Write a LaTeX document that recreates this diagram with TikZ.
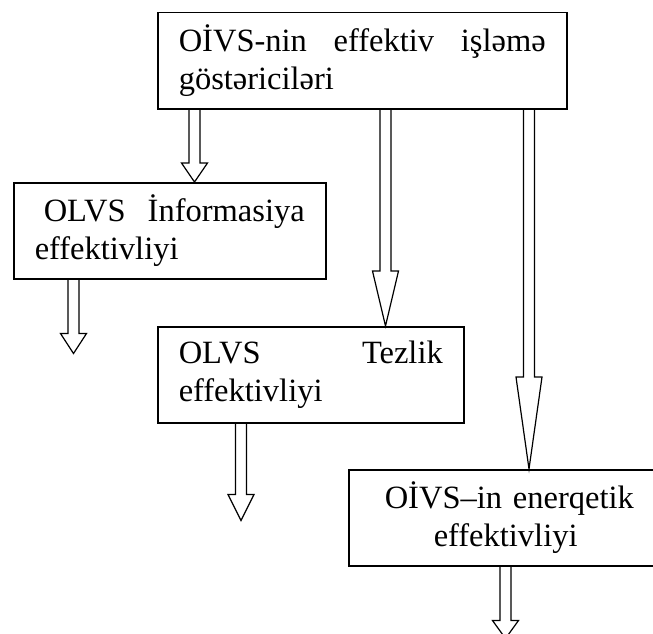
\documentclass[tikz,border=0pt]{standalone}
\usepackage{fontspec}
\setmainfont{Liberation Serif}
\usetikzlibrary{calc}
\definecolor{ink}{HTML}{000000}
\tikzset{
  blockbox/.style={draw=ink,line width=1.5pt,anchor=north west,inner xsep=21pt,
    inner ysep=0pt,minimum height=96pt,align=left,
    font=\fontsize{32.5}{37.5}\selectfont},
  hollow/.style={draw=ink,line width=1.2pt,line join=miter}
}
\newcommand{\hollowarrow}[3]{%
  \draw[hollow] let \p1=(#1), \p2=(#2) in
    (\x1-5.5pt,\y1) -- (\x1-5.5pt,\y2+#3) -- (\x1-13pt,\y2+#3) -- (\x1,\y2)
    -- (\x1+13pt,\y2+#3) -- (\x1+5.5pt,\y2+#3) -- (\x1+5.5pt,\y1);}

\begin{document}
\begin{tikzpicture}[x=1pt,y=-1pt]
  \useasboundingbox (0,0) rectangle (653,634);
  \node[blockbox,text width=367pt] (top) at (157,12)
    {OİVS-nin\hfill effektiv\hfill işləmə\\göstəriciləri};
  \node[blockbox,text width=270pt] (info) at (13,182)
    {\hspace*{9pt}OLVS\hfill İnformasiya\\effektivliyi};
  \node[blockbox,text width=264pt] (speed) at (157,326)
    {OLVS\hfill Tezlik\\effektivliyi};
  \node[blockbox,text width=290pt,align=left] (energy) at (348,469)
    {\hspace*{15pt}OİVS–in enerqetik\\\hspace*{64pt}effektivliyi};

  \coordinate (a1) at ($(top.south west)+(37.5,0)$);
  \coordinate (a2) at ($(top.south west)+(228.5,0)$);
  \coordinate (a3) at ($(top.south west)+(372,0)$);
  \coordinate (a4) at ($(info.south west)+(60.5,0)$);
  \coordinate (a4end) at ($(a4)+(0,74)$);
  \coordinate (a5) at ($(speed.south west)+(84,0)$);
  \coordinate (a5end) at ($(a5)+(0,97)$);
  \coordinate (a6) at ($(energy.south west)+(157.5,0)$);
  \coordinate (a6end) at ($(a6)+(0,72)$);

  \hollowarrow{a1}{a1 |- info.north}{19pt}
  \hollowarrow{a2}{a2 |- speed.north}{55pt}
  \hollowarrow{a3}{a3 |- energy.north}{92pt}
  \hollowarrow{a4}{a4end}{20pt}
  \hollowarrow{a5}{a5end}{26pt}
  \hollowarrow{a6}{a6end}{18pt}
\end{tikzpicture}
\end{document}
